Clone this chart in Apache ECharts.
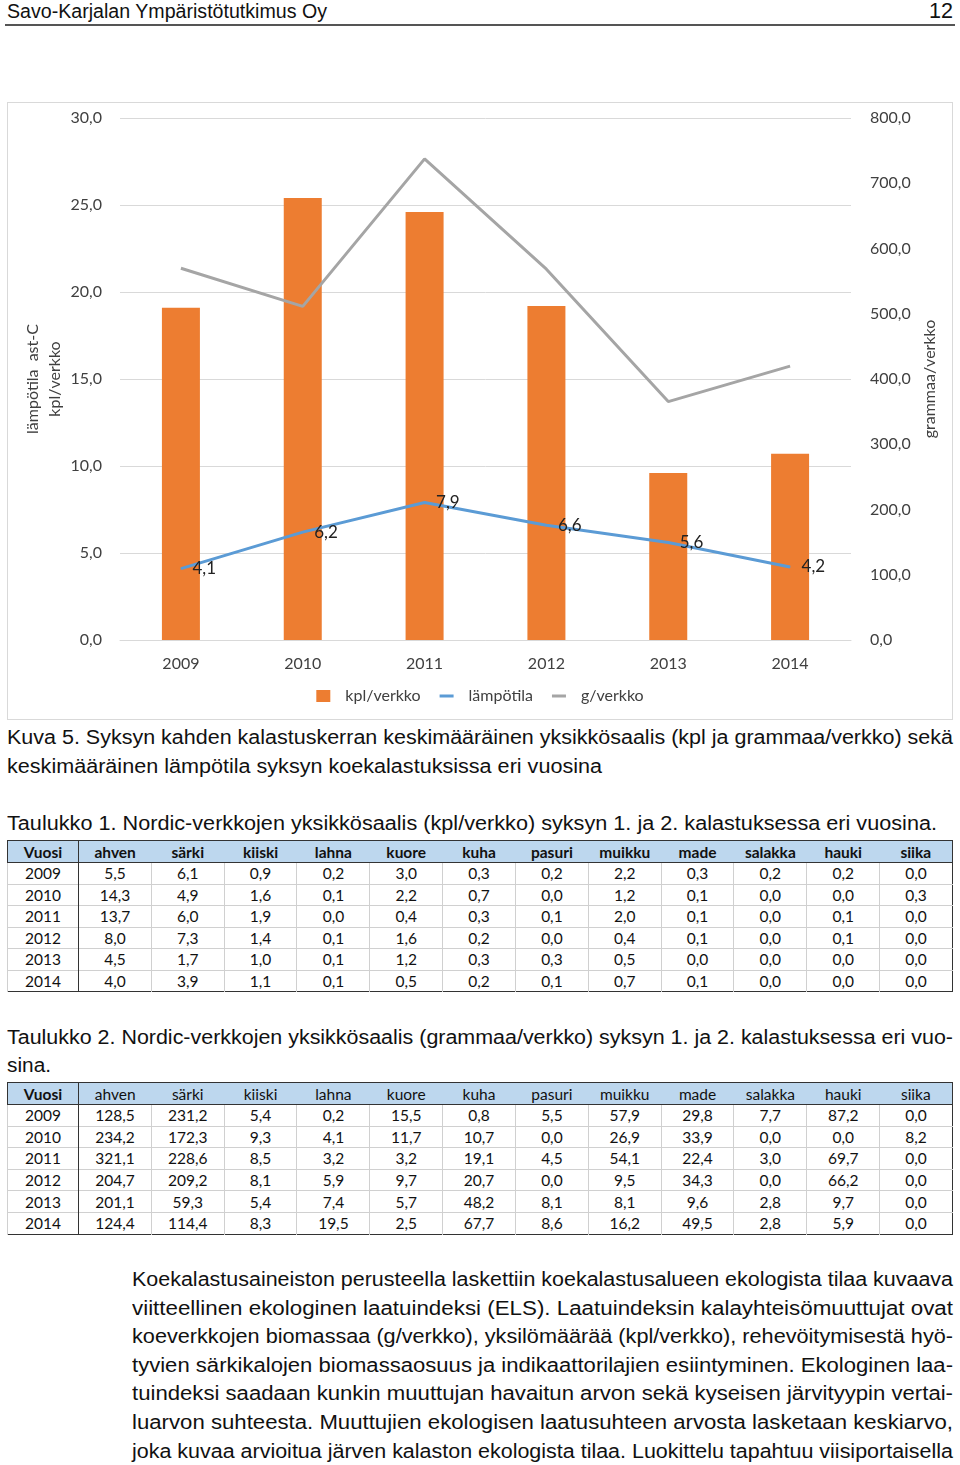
<!DOCTYPE html>
<html>
<head>
<meta charset="utf-8">
<script src="https://cdn.jsdelivr.net/npm/echarts@6/dist/echarts.min.js"></script>
<style>
  html, body { margin: 0; padding: 0; background: #fff; }
  body { width: 960px; height: 1465px; position: relative; overflow: hidden; font-family: "Liberation Sans", Arial, sans-serif; color: #111; }
  .abs { position: absolute; }
  #rule { left: 5px; top: 24px; width: 950px; height: 0; border-bottom: 2px solid #555; }
  #chart { left: 7px; top: 102px; width: 946px; height: 618px; box-sizing: border-box; border: 1px solid #d9d9d9; }
  .fit { position: absolute; display: inline-block; white-space: nowrap; font-size: 20px; line-height: 28px; transform-origin: 0 50%; }
  table { border-collapse: collapse; table-layout: fixed; font-family: Lato, "Open Sans", sans-serif; font-size: 15.5px; color: #111; }
  table td, table th { text-align: center; padding: 0; border-left: 1px solid #d0d0d0; border-top: 1px solid #d0d0d0; }
  table th { background: #bdd7ee; font-weight: normal; border-top: none; border-left: none; border-bottom: 1.5px solid #333; }
  table .first { border-right: 1.5px solid #333; }
  table.t { border: 1.5px solid #333; }
</style>
</head>
<body>
<span class="fit" data-w="320" style="left:7px; top:-3px; font-size:20px;">Savo-Karjalan Ympäristötutkimus Oy</span>
<span class="fit" data-w="24" style="left:929px; top:-3px; font-size:22px;">12</span>
<div id="rule" class="abs"></div>
<div id="chart" class="abs"></div>

<span class="fit" data-w="946" style="left:7px; top:723px;">Kuva 5. Syksyn kahden kalastuskerran keskimääräinen yksikkösaalis (kpl ja grammaa/verkko) sekä</span>
<span class="fit" data-w="595" style="left:7px; top:752px;">keskimääräinen lämpötila syksyn koekalastuksissa eri vuosina</span>

<span class="fit" data-w="930" style="left:7px; top:809px;">Taulukko 1. Nordic-verkkojen yksikkösaalis (kpl/verkko) syksyn 1. ja 2. kalastuksessa eri vuosina.</span>
<div class="abs" id="t1wrap" style="left:7px; top:840px;"></div>

<span class="fit" data-w="946" style="left:7px; top:1023px;">Taulukko 2. Nordic-verkkojen yksikkösaalis (grammaa/verkko) syksyn 1. ja 2. kalastuksessa eri vuo-</span>
<span class="fit" data-w="44" style="left:7px; top:1051px;">sina.</span>
<div class="abs" id="t2wrap" style="left:7px; top:1082px;"></div>

<span class="fit" data-w="821" style="left:132px; top:1265px;">Koekalastusaineiston perusteella laskettiin koekalastusalueen ekologista tilaa kuvaava</span>
<span class="fit" data-w="821" style="left:132px; top:1294px;">viitteellinen ekologinen laatuindeksi (ELS). Laatuindeksin kalayhteisömuuttujat ovat</span>
<span class="fit" data-w="821" style="left:132px; top:1322px;">koeverkkojen biomassaa (g/verkko), yksilömäärää (kpl/verkko), rehevöitymisestä hyö-</span>
<span class="fit" data-w="821" style="left:132px; top:1351px;">tyvien särkikalojen biomassaosuus ja indikaattorilajien esiintyminen. Ekologinen laa-</span>
<span class="fit" data-w="821" style="left:132px; top:1379px;">tuindeksi saadaan kunkin muuttujan havaitun arvon sekä kyseisen järvityypin vertai-</span>
<span class="fit" data-w="821" style="left:132px; top:1408px;">luarvon suhteesta. Muuttujien ekologisen laatusuhteen arvosta lasketaan keskiarvo,</span>
<span class="fit" data-w="821" style="left:132px; top:1437px;">joka kuvaa arvioitua järven kalaston ekologista tilaa. Luokittelu tapahtuu viisiportaisella</span>

<script>
// ---- Chart data ----
const years = ['2009', '2010', '2011', '2012', '2013', '2014'];
const kplPerVerkko = [19.1, 25.4, 24.6, 19.2, 9.6, 10.7];
const lampotila = [4.1, 6.2, 7.9, 6.6, 5.6, 4.2];
const gPerVerkko = [569.7, 511.3, 737.4, 568.3, 365.4, 419.8];

// ---- Table data ----
const species = ['ahven', 'särki', 'kiiski', 'lahna', 'kuore', 'kuha', 'pasuri', 'muikku', 'made', 'salakka', 'hauki', 'siika'];
const table1 = [
  ['5,5', '6,1', '0,9', '0,2', '3,0', '0,3', '0,2', '2,2', '0,3', '0,2', '0,2', '0,0'],
  ['14,3', '4,9', '1,6', '0,1', '2,2', '0,7', '0,0', '1,2', '0,1', '0,0', '0,0', '0,3'],
  ['13,7', '6,0', '1,9', '0,0', '0,4', '0,3', '0,1', '2,0', '0,1', '0,0', '0,1', '0,0'],
  ['8,0', '7,3', '1,4', '0,1', '1,6', '0,2', '0,0', '0,4', '0,1', '0,0', '0,1', '0,0'],
  ['4,5', '1,7', '1,0', '0,1', '1,2', '0,3', '0,3', '0,5', '0,0', '0,0', '0,0', '0,0'],
  ['4,0', '3,9', '1,1', '0,1', '0,5', '0,2', '0,1', '0,7', '0,1', '0,0', '0,0', '0,0']
];
const table2 = [
  ['128,5', '231,2', '5,4', '0,2', '15,5', '0,8', '5,5', '57,9', '29,8', '7,7', '87,2', '0,0'],
  ['234,2', '172,3', '9,3', '4,1', '11,7', '10,7', '0,0', '26,9', '33,9', '0,0', '0,0', '8,2'],
  ['321,1', '228,6', '8,5', '3,2', '3,2', '19,1', '4,5', '54,1', '22,4', '3,0', '69,7', '0,0'],
  ['204,7', '209,2', '8,1', '5,9', '9,7', '20,7', '0,0', '9,5', '34,3', '0,0', '66,2', '0,0'],
  ['201,1', '59,3', '5,4', '7,4', '5,7', '48,2', '8,1', '8,1', '9,6', '2,8', '9,7', '0,0'],
  ['124,4', '114,4', '8,3', '19,5', '2,5', '67,7', '8,6', '16,2', '49,5', '2,8', '5,9', '0,0']
];

function buildTable(el, rows, boldHeader, rowH) {
  let h = '<table class="t" style="width:946px;"><colgroup><col style="width:71px">';
  for (let i = 0; i < species.length; i++) h += '<col>';
  h += '</colgroup><tr style="height:22px"><th class="first" style="font-weight:bold">Vuosi</th>';
  species.forEach(s => { h += '<th' + (boldHeader ? ' style="font-weight:bold"' : '') + '>' + s + '</th>'; });
  h += '</tr>';
  rows.forEach((r, i) => {
    h += '<tr style="height:' + rowH + 'px"><td class="first">' + years[i] + '</td>';
    r.forEach(v => { h += '<td>' + v + '</td>'; });
    h += '</tr>';
  });
  h += '</table>';
  document.getElementById(el).innerHTML = h;
}
buildTable('t1wrap', table1, true, 21.5);
buildTable('t2wrap', table2, false, 21.6);

// fit text lines to their widths in the reference
document.querySelectorAll('.fit').forEach(el => {
  const target = parseFloat(el.dataset.w);
  const w = el.getBoundingClientRect().width;
  if (w > 0) el.style.transform = 'scaleX(' + (target / w) + ')';
});

const fmt = v => v.toFixed(1).replace('.', ',');
const chart = echarts.init(document.getElementById('chart'), null, { renderer: 'canvas' });
const txt = { color: '#404040', fontSize: 16, fontFamily: 'Lato, "Open Sans", sans-serif' };
const lineIcon = 'path://M0,0 L14,0 L14,3 L0,3 Z';
chart.setOption({
  animation: false,
  grid: { left: 112, right: 101, top: 15, bottom: 79 },
  legend: {
    bottom: 10, left: 'center', itemWidth: 14, itemHeight: 12, itemGap: 19,
    textStyle: Object.assign({ padding: [0, 0, 0, 10] }, txt),
    data: [
      { name: 'kpl/verkko', icon: 'rect' },
      { name: 'lämpötila', icon: lineIcon },
      { name: 'g/verkko', icon: lineIcon }
    ]
  },
  xAxis: {
    type: 'category', data: years,
    axisLine: { lineStyle: { color: '#d9d9d9', width: 1 } },
    axisTick: { show: false },
    axisLabel: Object.assign({ margin: 16 }, txt)
  },
  yAxis: [
    {
      type: 'value', min: 0, max: 30, interval: 5,
      name: 'lämpötila  ast-C\nkpl/verkko', nameLocation: 'middle', nameRotate: 90, nameGap: 54,
      nameMoveOverlap: false,
      nameTextStyle: Object.assign({ lineHeight: 22 }, txt),
      axisLabel: Object.assign({ margin: 18, formatter: fmt }, txt),
      axisLine: { show: false }, axisTick: { show: false },
      splitLine: { lineStyle: { color: '#d9d9d9', width: 1 } }
    },
    {
      type: 'value', min: 0, max: 800, interval: 100,
      name: 'grammaa/verkko', nameLocation: 'middle', nameRotate: 90, nameGap: 68,
      nameTextStyle: txt,
      axisLabel: Object.assign({ margin: 19, formatter: fmt }, txt),
      axisLine: { show: false }, axisTick: { show: false },
      splitLine: { show: false }
    }
  ],
  series: [
    {
      name: 'kpl/verkko', type: 'bar', data: kplPerVerkko, barWidth: 38,
      itemStyle: { color: '#ed7d31' }
    },
    {
      name: 'lämpötila', type: 'line', data: lampotila, yAxisIndex: 0,
      symbol: 'circle', symbolSize: 1, showSymbol: true,
      lineStyle: { color: '#5b9bd5', width: 3 }, itemStyle: { color: '#5b9bd5' },
      label: { show: true, position: 'right', distance: 11, formatter: p => fmt(p.value), color: '#222', fontSize: 17, fontFamily: txt.fontFamily }
    },
    {
      name: 'g/verkko', type: 'line', data: gPerVerkko, yAxisIndex: 1,
      symbol: 'none', lineStyle: { color: '#a5a5a5', width: 3 }, itemStyle: { color: '#a5a5a5' }
    }
  ]
});
</script>
</body>
</html>
